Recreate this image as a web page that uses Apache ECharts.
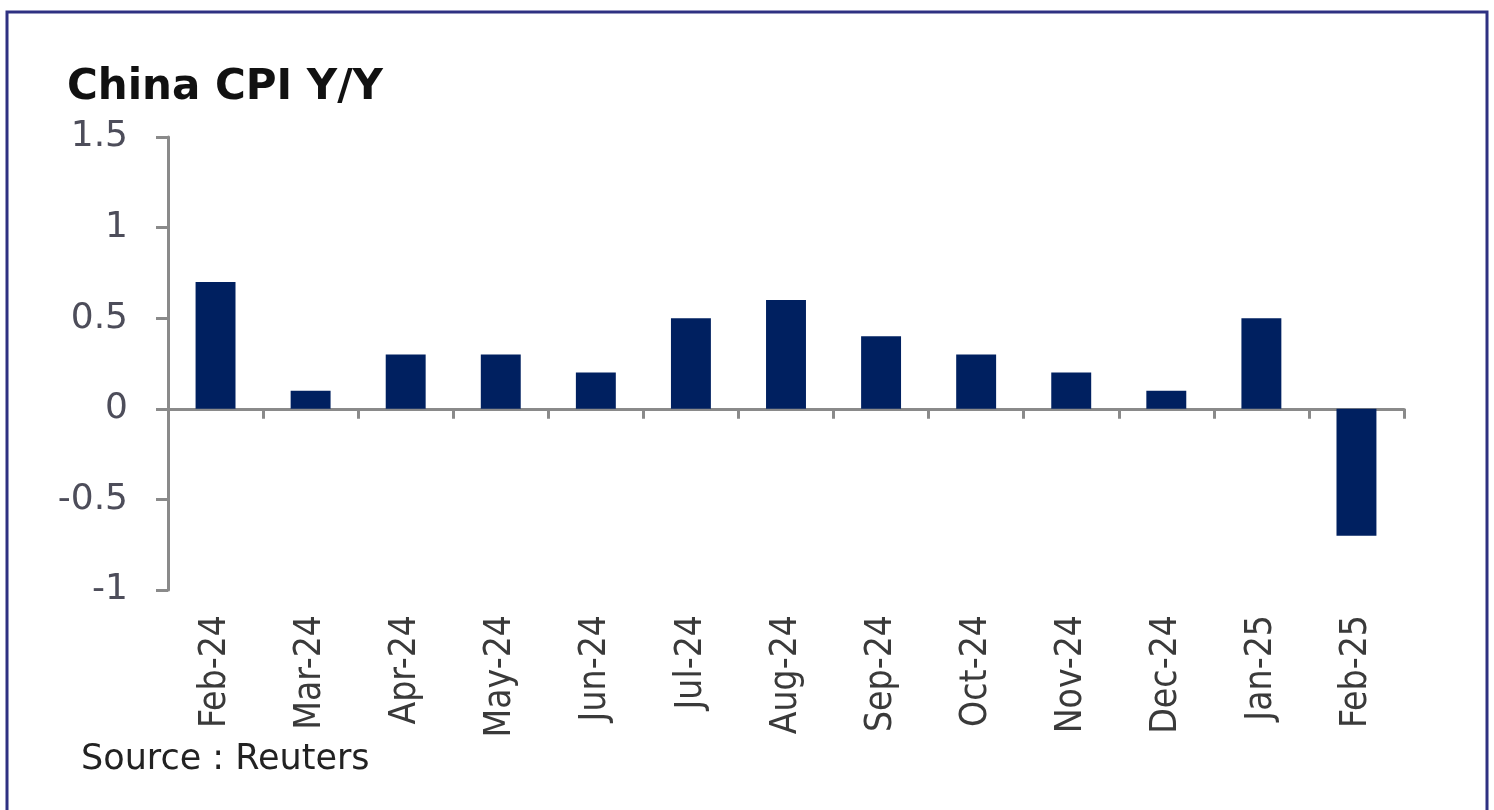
<!DOCTYPE html>
<html lang="en">
<head>
    <meta charset="utf-8">
    <title>China CPI Y/Y</title>
    <script src="https://cdn.jsdelivr.net/npm/echarts@6/dist/echarts.min.js"></script>
    <style type="text/css">
        html, body { height: 100%; margin: 0; background: #fff; }
    </style>
</head>
<body>
    <div id="main" style="width:1494px;height:810px;"></div>
    <script type="text/javascript">
        // 数据
        var months = ['Feb-24', 'Mar-24', 'Apr-24', 'May-24', 'Jun-24', 'Jul-24', 'Aug-24',
            'Sep-24', 'Oct-24', 'Nov-24', 'Dec-24', 'Jan-25', 'Feb-25'];
        var cpiYoY = [0.7, 0.1, 0.3, 0.3, 0.2, 0.5, 0.6, 0.4, 0.3, 0.2, 0.1, 0.5, -0.7];
        var yTicks = { min: -1, max: 1.5, step: 0.5 };

        var myChart = echarts.init(document.getElementById('main'));
        var axisGray = '#8a8a8a';

        var option = {
            animation: false,
            backgroundColor: '#fff',
            title: {
                text: 'China CPI Y/Y',
                left: 62,
                top: 62,
                textStyle: {
                    fontFamily: 'DejaVu Sans',
                    fontWeight: 'bold',
                    fontSize: 42,
                    color: '#111'
                }
            },
            grid: { left: 168, right: 90, top: 137, bottom: 220 },
            xAxis: [
                {
                    // 零线 + 刻度
                    type: 'category',
                    data: months,
                    axisLine: { onZero: true, lineStyle: { color: axisGray, width: 3 } },
                    axisTick: { show: true, length: 10, lineStyle: { color: axisGray, width: 3 } },
                    axisLabel: { show: false }
                },
                {
                    // 底部标签
                    type: 'category',
                    data: months,
                    position: 'bottom',
                    axisLine: { show: false, onZero: false },
                    axisTick: { show: false },
                    axisLabel: {
                        rotate: 90,
                        margin: 25,
                        color: '#3a3a3a',
                        fontSize: 37,
                        fontFamily: "'Liberation Sans Narrow', 'DejaVu Sans Condensed', sans-serif"
                    }
                }
            ],
            yAxis: {
                type: 'value',
                min: yTicks.min,
                max: yTicks.max,
                interval: yTicks.step,
                axisLine: { show: true, lineStyle: { color: axisGray, width: 3 } },
                axisTick: { show: true, length: 12, lineStyle: { color: axisGray, width: 3 } },
                splitLine: { show: false },
                axisLabel: {
                    margin: 40,
                    color: '#4d4d5a',
                    fontSize: 36,
                    fontFamily: 'DejaVu Sans'
                }
            },
            series: [
                {
                    name: 'CPI Y/Y',
                    type: 'bar',
                    data: cpiYoY,
                    xAxisIndex: 0,
                    barWidth: '42%',
                    itemStyle: { color: '#002060' }
                }
            ],
            graphic: [
                {
                    type: 'rect',
                    shape: { x: 7, y: 12, width: 1480, height: 840 },
                    style: { fill: 'none', stroke: '#2e3182', lineWidth: 3 },
                    silent: true
                },
                {
                    type: 'text',
                    left: 81,
                    top: 742,
                    style: {
                        text: 'Source : Reuters',
                        fontFamily: 'DejaVu Sans',
                        fontSize: 35,
                        fill: '#222'
                    }
                }
            ]
        };

        myChart.setOption(option);
    </script>
</body>
</html>
